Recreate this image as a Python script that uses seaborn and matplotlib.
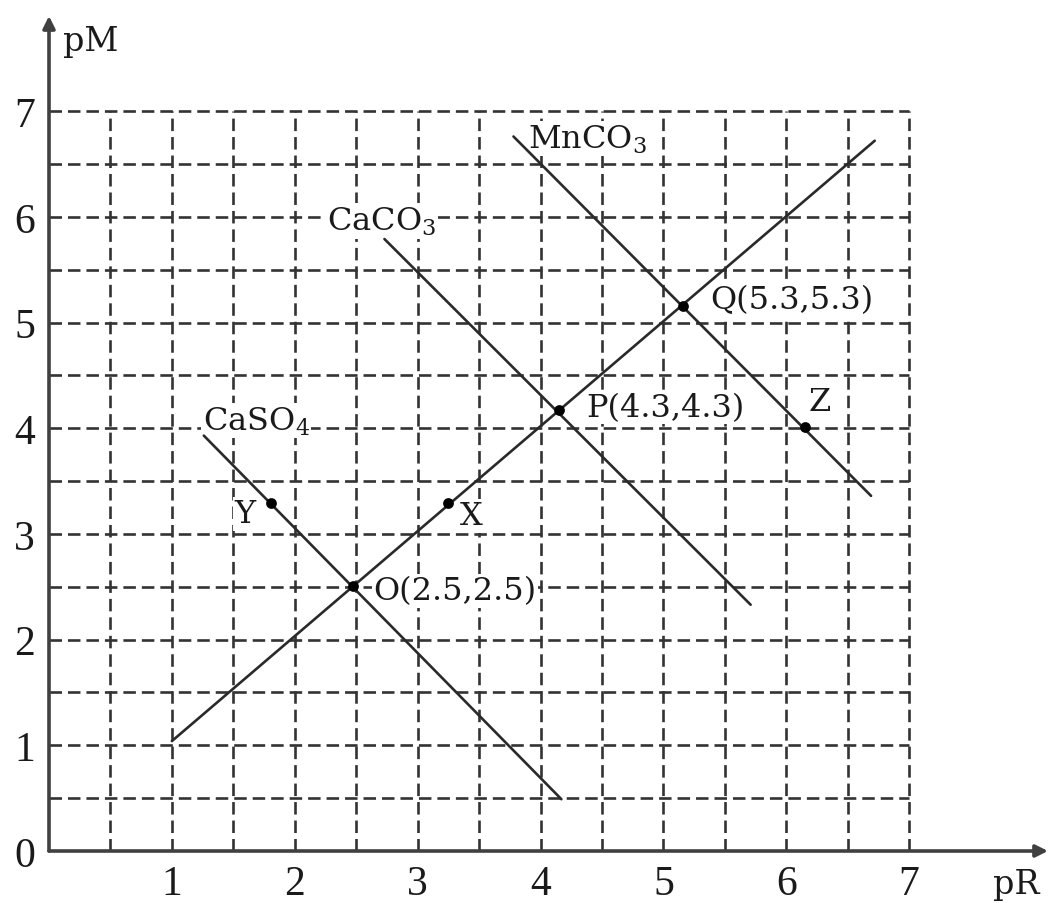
import matplotlib
matplotlib.use("Agg")
import matplotlib.pyplot as plt
import numpy as np
import pandas as pd
import seaborn as sns

# curve end points (pR, pM) as drawn
caso4_x = [1.26, 4.17]
caso4_y = [3.93, 0.49]
caco3_x = [2.73, 5.71]
caco3_y = [5.79, 2.33]
mnco3_x = [3.78, 6.69]
mnco3_y = [6.76, 3.36]
diag_x = [1.00, 6.72]
diag_y = [1.04, 6.72]

# marked points
point_names = ["O", "P", "Q", "X", "Y", "Z"]
point_x = [2.47, 4.15, 5.16, 3.25, 1.81, 6.15]
point_y = [2.51, 4.17, 5.16, 3.29, 3.29, 4.01]

# text labels
curve_labels = ["CaSO$_4$", "CaCO$_3$", "MnCO$_3$"]
curve_label_x = [1.25, 2.26, 3.90]
curve_label_y = [4.07, 5.96, 6.74]
point_labels = ["O(2.5,2.5)", "P(4.3,4.3)", "Q(5.3,5.3)", "X", "Y", "Z"]
point_label_x = [2.64, 4.37, 5.38, 3.34, 1.51, 6.18]
point_label_y = [2.46, 4.20, 5.22, 3.17, 3.19, 4.25]

x_ticks = [1, 2, 3, 4, 5, 6, 7]
y_ticks = [0, 1, 2, 3, 4, 5, 6, 7]

sns.set_style("white")
plt.rcParams["font.family"] = ["DejaVu Serif"]
plt.rcParams["mathtext.fontset"] = "dejavuserif"

lines_df = pd.concat([
    pd.DataFrame({"pR": caso4_x, "pM": caso4_y, "curve": "CaSO4"}),
    pd.DataFrame({"pR": caco3_x, "pM": caco3_y, "curve": "CaCO3"}),
    pd.DataFrame({"pR": mnco3_x, "pM": mnco3_y, "curve": "MnCO3"}),
    pd.DataFrame({"pR": diag_x, "pM": diag_y, "curve": "diag"}),
])
points_df = pd.DataFrame({"pR": point_x, "pM": point_y, "name": point_names})

fig = plt.figure(figsize=(10.5, 9.04), dpi=100)
ax = fig.add_axes([49 / 1050, 52 / 904, 999 / 1050, 835 / 904])
ax.set_xlim(0, 8.13)
ax.set_ylim(0, 7.90)

# dashed grid every 0.5 up to 7
grid_pos = np.arange(0.5, 7.01, 0.5)
glw = 1.9
ax.hlines(grid_pos, 0, 7, colors="#333333", linewidth=glw,
          linestyles=[(0, (9.0 / glw, 4.3 / glw))], zorder=1)
ax.vlines(grid_pos, 0, 7, colors="#333333", linewidth=glw,
          linestyles=[(0, (9.0 / glw, 4.3 / glw))], zorder=1)

sns.lineplot(data=lines_df, x="pR", y="pM", units="curve", estimator=None,
             sort=False, color="#2a2a2a", linewidth=1.9, ax=ax, zorder=3)
sns.scatterplot(data=points_df, x="pR", y="pM", color="black", s=60,
                linewidth=0, ax=ax, zorder=4)

box = dict(boxstyle="square,pad=0.05", facecolor="white", edgecolor="none")
for t, x, y in zip(curve_labels, curve_label_x, curve_label_y):
    ax.text(x, y, t, fontsize=23, va="center", ha="left", color="#1a1a1a",
            bbox=box, zorder=2)
for t, x, y in zip(point_labels, point_label_x, point_label_y):
    ax.text(x, y, t, fontsize=23, va="center", ha="left", color="#1a1a1a",
            bbox=box, zorder=2)

# axes with arrows
for s in ax.spines.values():
    s.set_visible(False)
arrow = dict(arrowstyle="-|>", lw=2.6, color="#404040", mutation_scale=18,
             shrinkA=0, shrinkB=0)
ax.annotate("", xy=(1, 0), xytext=(0, 0), xycoords="axes fraction",
            textcoords="axes fraction", arrowprops=arrow)
ax.annotate("", xy=(0, 1), xytext=(0, 0), xycoords="axes fraction",
            textcoords="axes fraction", arrowprops=arrow)

ax.set_xticks(x_ticks)
ax.set_yticks(y_ticks)
ax.set_xticklabels([str(v) for v in x_ticks], fontfamily="Liberation Serif",
                   fontsize=30, color="#1a1a1a")
ax.set_yticklabels([str(v) for v in y_ticks], fontfamily="Liberation Serif",
                   fontsize=30, color="#1a1a1a")
ax.tick_params(length=0, pad=10)
ax.set_xlabel("")
ax.set_ylabel("")

ax.text(0.11, 7.66, "pM", fontsize=24, va="center", ha="left", color="#1a1a1a")
ax.text(7.68, -0.31, "pR", fontsize=24, va="center", ha="left", color="#1a1a1a",
        clip_on=False)

fig.savefig("out.png", dpi=100)
